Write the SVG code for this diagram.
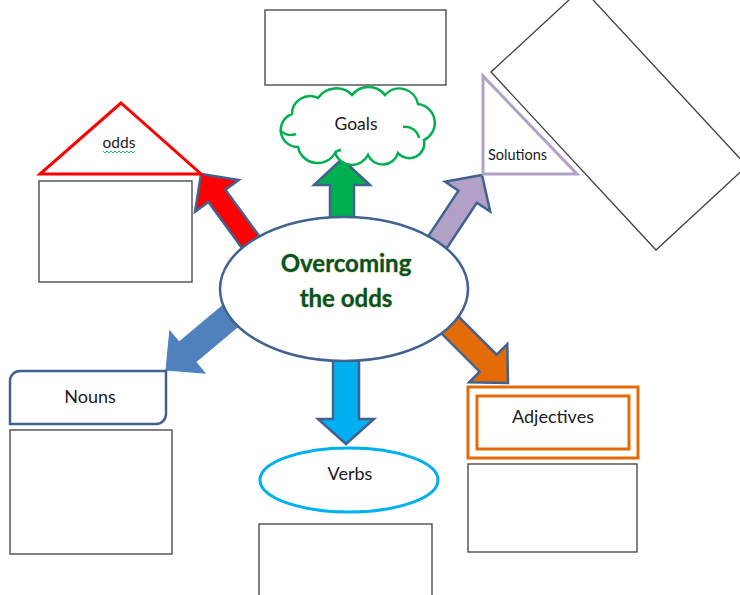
<svg xmlns="http://www.w3.org/2000/svg" width="740" height="595" viewBox="0 0 740 595">
<defs>
<style>
.box{fill:#fff;stroke:#3f3f3f;stroke-width:1.3}
.lbl{font-family:Lato,"Liberation Sans",sans-serif;fill:#1a1a1a;text-anchor:middle}
.arr{stroke:#41618f;stroke-width:2.5;stroke-linejoin:miter}
.title{font-family:Lato,"Liberation Sans",sans-serif;font-weight:bold;font-size:24px;fill:#00532a;stroke:#d8c47a;stroke-width:1;paint-order:stroke;text-anchor:middle}
</style>
</defs>
<rect width="740" height="595" fill="#fff"/>
<g id="connectors">
<polygon class="arr" fill="#ff0000" transform="translate(201,174) rotate(-126.1)" points="-95,-10.5 -27,-10.5 -27,-27 0,0 -27,27 -27,10.5 -95,10.5"/>
<polygon class="arr" fill="#00b050" transform="translate(342,159) rotate(-90)" points="-70,-12 -26,-12 -26,-28 0,0 -26,28 -26,12 -70,12"/>
<polygon class="arr" fill="#b2a1c7" transform="translate(482,175) rotate(-56.5)" points="-95,-11 -26,-11 -26,-27 0,0 -26,27 -26,11 -95,11"/>
<polygon fill="#4f81bd" stroke="#4f81bd" stroke-width="1" transform="translate(166,370) rotate(140)" points="-95,-13 -28,-13 -28,-27.5 0,0 -28,27.5 -28,13 -95,13"/>
<polygon class="arr" fill="#e36c09" transform="translate(508,383) rotate(45)" points="-95,-12 -28,-12 -28,-27 0,0 -28,27 -28,12 -95,12"/>
<polygon class="arr" fill="#00b0f0" transform="translate(346,444) rotate(90)" points="-95,-13 -25,-13 -25,-28 0,0 -25,28 -25,13 -95,13"/>
</g>
<g id="center">
<ellipse cx="344" cy="289" rx="124" ry="72" fill="#fff" stroke="#41618f" stroke-width="2.5"/>
<text class="title" x="346" y="272">Overcoming</text>
<text class="title" x="346" y="307">the odds</text>
</g>
<g id="top-box"><rect class="box" x="265" y="10" width="181" height="75"/></g>
<g id="goals">
<path d="M298,147 A17,17 0 0 1 292,114 A18,18 0 0 1 318,98 A22,22 0 0 1 352,95 A21,21 0 0 1 385,95 A19,19 0 0 1 418,104 A19,19 0 0 1 424,140 A15,15 0 0 1 398,153 A16,16 0 0 1 368,155 A18,18 0 0 1 335,153 A20,20 0 0 1 298,147 Z" fill="#fff" stroke="#00b050" stroke-width="2.5"/>
<path d="M280,130 A14,14 0 0 0 296,134 M403,127 A14,14 0 0 1 419,138 M335,153 A8,8 0 0 1 341,150" fill="none" stroke="#00b050" stroke-width="2.5"/>
<text class="lbl" x="356" y="130" font-size="17.5">Goals</text>
</g>
<g id="odds">
<polygon points="121,103 40,174 201,174" fill="#fff" stroke="#ff0000" stroke-width="3"/>
<text class="lbl" x="119" y="148" font-size="15.5">odds</text>
<polyline points="103,151 105,153 107,151 109,153 111,151 113,153 115,151 117,153 119,151 121,153 123,151 125,153 127,151 129,153 131,151 133,153 135,151" fill="none" stroke="#00b050" stroke-width="0.9"/>
</g>
<g id="odds-box"><rect class="box" x="39" y="181" width="153" height="101" stroke="#666"/></g>
<g id="solutions">
<polygon points="483,76 483,174 577,174" fill="#fff" stroke="#b2a1c7" stroke-width="3"/>
<text x="488" y="160" font-family="Lato,'Liberation Sans',sans-serif" font-size="14.5" fill="#1a1a1a">Solutions</text>
</g>
<g id="solutions-box"><polygon class="box" points="491,72 582,-12 747,166 656,250"/></g>
<g id="nouns">
<path d="M20,371 H166 V414 A10,10 0 0 1 156,424 H10 V381 A10,10 0 0 1 20,371 Z" fill="#fff" stroke="#41618f" stroke-width="2.5"/>
<text class="lbl" x="90" y="403" font-size="18">Nouns</text>
</g>
<g id="nouns-box"><rect class="box" x="10" y="430" width="162" height="124"/></g>
<g id="verbs">
<ellipse cx="349" cy="480" rx="89" ry="32" fill="#fff" stroke="#00b0f0" stroke-width="3"/>
<text class="lbl" x="350" y="480" font-size="18">Verbs</text>
</g>
<g id="verbs-box"><rect class="box" x="259" y="524" width="173" height="80"/></g>
<g id="adjectives">
<rect x="468" y="387" width="170" height="71" fill="#fff" stroke="#e36c09" stroke-width="3"/>
<rect x="477" y="396" width="152" height="53" fill="#fff" stroke="#e36c09" stroke-width="3"/>
<text class="lbl" x="553" y="423" font-size="18">Adjectives</text>
</g>
<g id="adjectives-box"><rect class="box" x="468" y="464" width="169" height="88"/></g>
</svg>
